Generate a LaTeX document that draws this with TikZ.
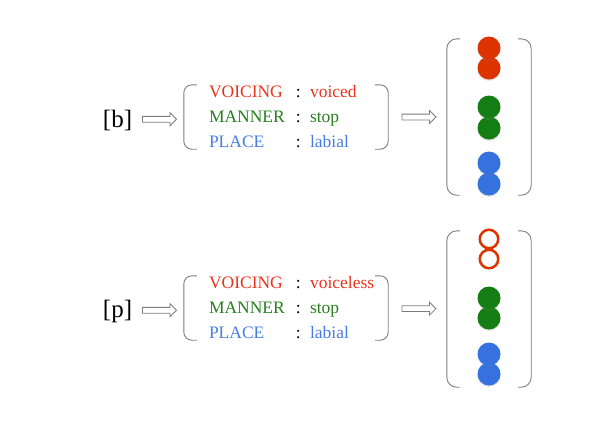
\documentclass[tikz,border=0pt]{standalone}
\usepackage{fontspec}
\setmainfont{Liberation Serif}
\usetikzlibrary{shapes.arrows,shadows}

\definecolor{vred}{RGB}{232,52,28}
\definecolor{vgreen}{RGB}{38,128,28}
\definecolor{vblue}{RGB}{72,125,226}
\definecolor{dotred}{RGB}{221,51,0}
\definecolor{dotgreen}{RGB}{20,125,20}
\definecolor{dotblue}{RGB}{53,114,224}
\definecolor{parengray}{RGB}{125,125,125}

\begin{document}
\begin{tikzpicture}[x=1pt,y=-1pt,
    seg/.style={font=\fontsize{25}{30}\selectfont,inner sep=0pt},
    feats/.style={font=\fontsize{17.5}{25}\selectfont,inner sep=0pt,anchor=west},
    box/.style={minimum width=204pt,minimum height=64pt,inner sep=0pt},
    bigbox/.style={minimum width=84pt,minimum height=156pt,inner sep=0pt},
    paren/.style={draw=parengray,line width=0.9pt,rounded corners=8pt},
    hollow/.style={single arrow,draw=parengray,fill=white,line width=0.8pt,
        minimum height=34pt,inner sep=2.5pt,single arrow head extend=3.5pt},
    dot/.style={circle,minimum size=23pt,inner sep=0pt,
        drop shadow={opacity=0.25,shadow xshift=0pt,shadow yshift=-1.3pt}},
    ring/.style={circle,draw=dotred,line width=2.5pt,minimum size=18.5pt,inner sep=0pt}]
\useasboundingbox (0,0) rectangle (612,424);

% [b]
\node[seg,anchor=base] (lb) at (117.5,127) {[b]};
\node[box] (fb) at (286,117) {};
\node[feats] (tb) at ([xshift=25pt]fb.west) {\begin{tabular}{@{}l@{\hspace{11pt}}c@{\hspace{9.3pt}}l@{}}
    \textcolor{vred}{VOICING} & : & \textcolor{vred}{voiced}\\
    \textcolor{vgreen}{MANNER} & : & \textcolor{vgreen}{stop}\\
    \textcolor{vblue}{PLACE} & : & \textcolor{vblue}{labial}
  \end{tabular}};
\node[bigbox] (cb) at (489,117) {};
\node[dot,fill=dotred] (b2) at ([yshift=49pt]cb.center) {};
\node[dot,fill=dotred] (b1) at ([yshift=69pt]cb.center) {};
\node[dot,fill=dotgreen] (b4) at ([yshift=-11pt]cb.center) {};
\node[dot,fill=dotgreen] (b3) at ([yshift=10pt]cb.center) {};
\node[dot,fill=dotblue] (b6) at ([yshift=-67pt]cb.center) {};
\node[dot,fill=dotblue] (b5) at ([yshift=-46pt]cb.center) {};
\draw[paren] ([xshift=13pt]fb.north west) -- (fb.north west) -- (fb.south west) -- ([xshift=13pt]fb.south west);
\draw[paren] ([xshift=-13pt]fb.north east) -- (fb.north east) -- (fb.south east) -- ([xshift=-13pt]fb.south east);
\draw[paren,rounded corners=10pt] ([xshift=13pt]cb.north west) -- (cb.north west) -- (cb.south west) -- ([xshift=13pt]cb.south west);
\draw[paren,rounded corners=10pt] ([xshift=-13pt]cb.north east) -- (cb.north east) -- (cb.south east) -- ([xshift=-13pt]cb.south east);
\path (lb) -- node[hollow] {} (fb);
\path (fb) -- node[hollow] {} (cb);

% [p]
\node[seg,anchor=base] (lp) at (117.5,317) {[p]};
\node[box] (fp) at (286,308) {};
\node[feats] (tp) at ([xshift=25pt]fp.west) {\begin{tabular}{@{}l@{\hspace{11pt}}c@{\hspace{9.3pt}}l@{}}
    \textcolor{vred}{VOICING} & : & \textcolor{vred}{voiceless}\\
    \textcolor{vgreen}{MANNER} & : & \textcolor{vgreen}{stop}\\
    \textcolor{vblue}{PLACE} & : & \textcolor{vblue}{labial}
  \end{tabular}};
\node[bigbox] (cp) at (489,309) {};
\node[ring] (p1) at ([yshift=70pt]cp.center) {};
\node[ring] (p2) at ([yshift=50pt]cp.center) {};
\node[dot,fill=dotgreen] (p4) at ([yshift=-9pt]cp.center) {};
\node[dot,fill=dotgreen] (p3) at ([yshift=11pt]cp.center) {};
\node[dot,fill=dotblue] (p6) at ([yshift=-65pt]cp.center) {};
\node[dot,fill=dotblue] (p5) at ([yshift=-45pt]cp.center) {};
\draw[paren] ([xshift=13pt]fp.north west) -- (fp.north west) -- (fp.south west) -- ([xshift=13pt]fp.south west);
\draw[paren] ([xshift=-13pt]fp.north east) -- (fp.north east) -- (fp.south east) -- ([xshift=-13pt]fp.south east);
\draw[paren,rounded corners=10pt] ([xshift=13pt]cp.north west) -- (cp.north west) -- (cp.south west) -- ([xshift=13pt]cp.south west);
\draw[paren,rounded corners=10pt] ([xshift=-13pt]cp.north east) -- (cp.north east) -- (cp.south east) -- ([xshift=-13pt]cp.south east);
\path (lp) -- node[hollow] {} (fp);
\path (fp) -- node[hollow] {} (cp);
\end{tikzpicture}
\end{document}
